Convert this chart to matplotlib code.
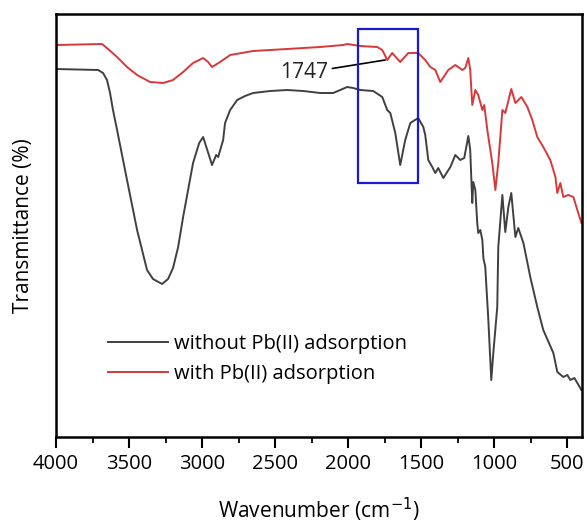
import matplotlib
matplotlib.use("Agg")
import matplotlib.pyplot as plt
from matplotlib.ticker import MultipleLocator
from matplotlib.patches import Rectangle

plt.rcParams['font.family'] = ['Open Sans', 'DejaVu Sans']

# Without Pb(II) adsorption (wavenumber cm-1, transmittance a.u.)
wn_without = [4000, 3712, 3678, 3651, 3630, 3610, 3582, 3514, 3445, 3377, 3336, 3274,
              3233, 3199, 3164, 3130, 3062, 3020, 2993,
              2932, 2904, 2890, 2856, 2843, 2808, 2760, 2706, 2651, 2534, 2418, 2308, 2192,
              2103, 2055, 2007, 1966, 1918, 1829, 1767, 1733, 1712, 1678, 1644, 1610,
              1575, 1521, 1486, 1473, 1452, 1425, 1404, 1384, 1349, 1301, 1267, 1233,
              1206, 1178, 1165, 1151, 1144, 1130, 1117, 1110, 1096, 1082, 1075, 1062,
              1041, 1021, 1007, 980, 973, 945, 925, 904, 884, 856, 836, 801, 754, 706,
              665, 596, 569, 528, 500, 480, 452, 432, 404]
t_without = [368, 367, 364, 357, 344, 327, 307, 257, 207, 167, 158, 153,
             158, 169, 190, 220, 274, 294, 300,
             272, 282, 280, 297, 314, 327, 337, 341, 344, 346, 347, 346, 344,
             344, 347, 350, 349, 347, 346, 340, 327, 324, 304, 272, 297,
             314, 319, 310, 302, 277, 270, 264, 269, 259, 270, 282, 277,
             279, 301, 287, 234, 255, 247, 214, 204, 207, 197, 179, 170,
             117, 57, 84, 130, 190, 242, 205, 230, 244, 200, 209, 194, 160, 130,
             107, 84, 65, 60, 62, 57, 59, 54, 47]

# With Pb(II) adsorption
wn_with = [4000, 3685, 3644, 3582, 3514, 3445, 3356, 3267, 3199, 3130, 3062, 2993,
           2959, 2932, 2877,
           2808, 2651, 2418, 2192, 2034, 2007, 1918, 1801, 1767, 1733, 1699, 1644,
           1589, 1521, 1473, 1438, 1404, 1370, 1315, 1267, 1219, 1199, 1178, 1165,
           1151, 1130, 1110, 1082, 1069, 1048, 1014, 993, 973, 945, 925, 884, 856,
           815, 774, 740, 706, 665, 617, 582, 569, 548, 528, 494, 459, 432, 404]
t_with = [392, 393, 388, 380, 370, 362, 355, 354, 357, 365, 374, 379,
          375, 370, 375,
          382, 386, 388, 390, 392, 393, 391, 390, 387, 377, 384, 375,
          384, 384, 377, 370, 367, 355, 367, 372, 367, 369, 379, 367,
          332, 347, 342, 327, 332, 307, 274, 247, 274, 327, 324, 348, 334,
          340, 330, 317, 300, 290, 277, 260, 244, 254, 240, 242, 240, 227, 214]

labels = ["without Pb(II) adsorption", "with Pb(II) adsorption"]
xticks = [4000, 3500, 3000, 2500, 2000, 1500, 1000, 500]

fig = plt.figure(figsize=(5.87, 5.23), dpi=100)
ax = fig.add_axes([56/587, 1-437/523, 526/587, 423/523])

ax.plot(wn_without, t_without, color='#404040', lw=1.4, label=labels[0])
ax.plot(wn_with, t_with, color='#d9383a', lw=1.4, label=labels[1])

ax.add_patch(Rectangle((1932, 254), 1521-1932, 408-254, fill=False,
                       edgecolor='#1a1ad0', lw=1.6, zorder=5))

ax.annotate("1747", xy=(1747, 377), xytext=(2137, 364), fontsize=15,
            ha='right', va='center', color='#222222',
            arrowprops=dict(arrowstyle='-', color='black', lw=1.2,
                            shrinkA=1, shrinkB=0))

ax.set_xlim(4000, 400)
ax.set_ylim(0, 423)
ax.set_xticks(xticks)
ax.xaxis.set_minor_locator(MultipleLocator(250))
ax.set_yticks([])
ax.tick_params(axis='x', which='major', direction='out', length=8, width=1.5,
               labelsize=14.5, pad=4, colors='black')
ax.tick_params(axis='x', which='minor', direction='out', length=4, width=1.3)
for s in ax.spines.values():
    s.set_linewidth(1.8)
    s.set_color('black')

ax.set_xlabel("Wavenumber (cm$^{-1}$)", fontsize=15, labelpad=16)
ax.set_ylabel("Transmittance (%)", fontsize=15, labelpad=16)

leg = ax.legend(loc='upper left', bbox_to_anchor=(0.099, 0.243), frameon=False,
                fontsize=14.5, handlelength=3.0, handletextpad=0.25,
                labelspacing=0.5, borderpad=0, borderaxespad=0)

fig.savefig("out.png", dpi=100)
